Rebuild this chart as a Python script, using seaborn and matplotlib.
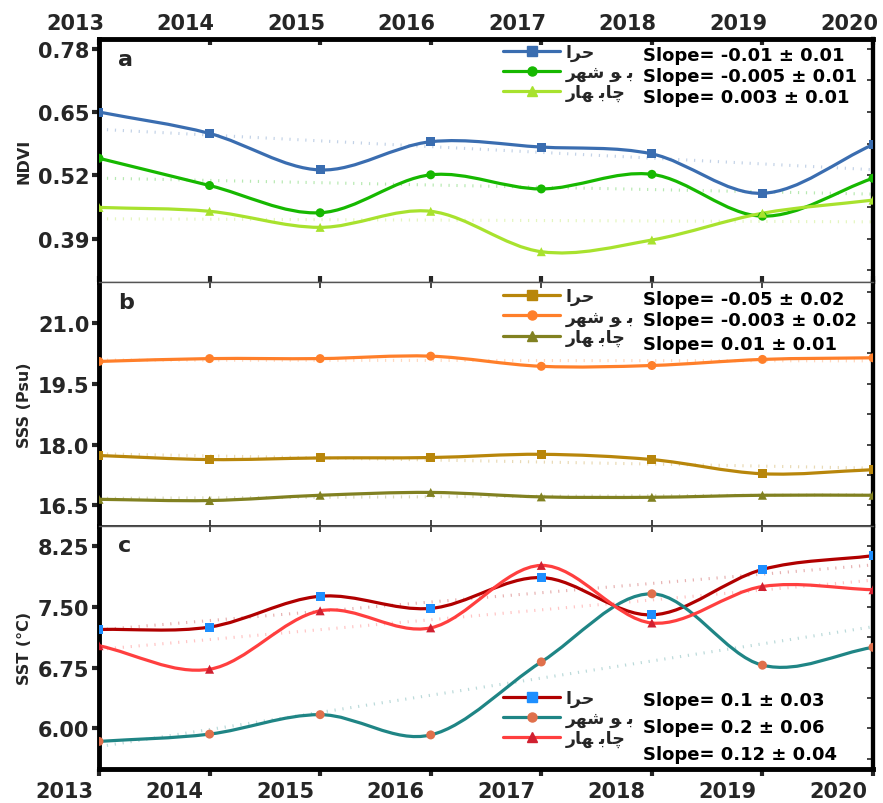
import numpy as np
import pandas as pd
import seaborn as sns
import matplotlib.pyplot as plt
from matplotlib.path import Path
from matplotlib.patches import PathPatch
from matplotlib.lines import Line2D
from matplotlib.transforms import ScaledTranslation

# ---------------------------------------------------------
# Data
# ---------------------------------------------------------
years = [2013, 2014, 2015, 2016, 2017, 2018, 2019, 2020]

# site names, written in visual (left-to-right) Arabic presentation forms
# because matplotlib does no right-to-left shaping: حرا / بو شهر / چاب هار
site_labels = ["\uFE8D\uFEAE\uFEA3",
               "\uFEAE\uFEEC\uFEB7 \uFEEE \uFE91",
               "\uFEAD\uFE8E\uFEEC \uFE91\uFE8E\uFB7C"]

ndvi_hara = [0.650, 0.606, 0.531, 0.589, 0.578, 0.564, 0.483, 0.583]
ndvi_bushehr = [0.555, 0.499, 0.443, 0.521, 0.492, 0.522, 0.436, 0.514]
ndvi_chabahar = [0.454, 0.446, 0.413, 0.446, 0.363, 0.387, 0.442, 0.469]
ndvi_slopes = ["Slope= -0.01 \u00b1 0.01", "Slope= -0.005 \u00b1 0.01", "Slope= 0.003 \u00b1 0.01"]

sss_hara = [17.73, 17.63, 17.67, 17.68, 17.76, 17.63, 17.28, 17.38]
sss_bushehr = [20.05, 20.12, 20.12, 20.18, 19.93, 19.95, 20.10, 20.14]
sss_chabahar = [16.65, 16.62, 16.75, 16.82, 16.71, 16.70, 16.75, 16.75]
sss_slopes = ["Slope= -0.05 \u00b1 0.02", "Slope= -0.003 \u00b1 0.02", "Slope= 0.01 \u00b1 0.01"]

sst_hara = [7.22, 7.25, 7.63, 7.48, 7.86, 7.40, 7.96, 8.13]
sst_bushehr = [5.84, 5.93, 6.17, 5.92, 6.82, 7.66, 6.78, 7.00]
sst_chabahar = [7.02, 6.73, 7.45, 7.24, 8.01, 7.30, 7.75, 7.71]
sst_slopes = ["Slope= 0.1 \u00b1 0.03", "Slope= 0.2 \u00b1 0.06", "Slope= 0.12 \u00b1 0.04"]

ndvi_ticks = [0.39, 0.52, 0.65, 0.78]
sss_ticks = [16.5, 18.0, 19.5, 21.0]
sst_ticks = [6.00, 6.75, 7.50, 8.25]

# ---------------------------------------------------------
# Style
# ---------------------------------------------------------
sns.set_theme(style="ticks")
plt.rcParams["font.family"] = ["DejaVu Sans"]
plt.rcParams["font.weight"] = "bold"


def smooth_path(x, y):
    # Catmull-Rom style bezier through the data points
    pts = np.column_stack([np.asarray(x, float), np.asarray(y, float)])
    tang = np.gradient(pts, axis=0)
    verts, codes = [pts[0]], [Path.MOVETO]
    for i in range(len(pts) - 1):
        verts += [pts[i] + tang[i] / 3, pts[i + 1] - tang[i + 1] / 3, pts[i + 1]]
        codes += [Path.CURVE4] * 3
    return Path(verts, codes)


def draw_panel(ax, series, colors, markers, mcolors, ylim, yticks, ylabel, letter,
               slopes, leg_xy, slope_y, fmt):
    for vals, c, m, mc in zip(series, colors, markers, mcolors):
        df = pd.DataFrame({"year": years, "value": vals})
        # dotted linear trend
        sns.regplot(data=df, x="year", y="value", ax=ax, scatter=False, ci=None,
                    line_kws=dict(color=c, lw=2.2, alpha=0.3, ls=(0, (0.4, 2.2))))
        ax.add_patch(PathPatch(smooth_path(years, vals), fc="none", ec=c, lw=2.3,
                               capstyle="round", zorder=3))
        sns.scatterplot(data=df, x="year", y="value", ax=ax, marker=m, color=mc,
                        s=42, edgecolor="none", zorder=4)
    handles = [Line2D([], [], color=c, lw=2.3, marker=m, markerfacecolor=mc,
                      markeredgecolor=mc, markersize=6.5)
               for c, m, mc in zip(colors, markers, mcolors)]
    ax.legend(handles, site_labels, loc="upper left", bbox_to_anchor=leg_xy,
              frameon=False, handlelength=3.3, handletextpad=0.3, borderpad=0,
              borderaxespad=0, labelspacing=0.12,
              prop=dict(family="DejaVu Sans", weight="bold", size=12.5))
    for s, yy in zip(slopes, slope_y):
        ax.text(0.703, yy, s, transform=ax.transAxes, ha="left", va="center",
                fontsize=13, fontweight="bold", color="black")
    ax.text(0.025, 0.92, letter, transform=ax.transAxes, ha="left", va="center",
            fontsize=16, fontweight="bold")
    ax.set_ylim(*ylim)
    ax.set_yticks(yticks)
    ax.set_yticklabels([fmt.format(t) for t in yticks])
    ax.set_ylabel(ylabel, fontsize=11.5, fontweight="bold")
    ax.yaxis.set_label_coords(-0.087, 0.5)
    ax.tick_params(axis="y", direction="out", length=5, width=3, labelsize=15, pad=2)
    step = (yticks[1] - yticks[0]) / 2
    sec = ax.secondary_yaxis("right")
    sec.set_yticks(np.arange(yticks[0] - step, ylim[1], step))
    sec.tick_params(direction="in", length=4, width=1.2, labelright=False)
    sec.spines["right"].set_linewidth(3)
    sec.spines["right"].set_color("black")
    ax.set_xlim(2013, 2020)
    ax.set_xticks(years)
    ax.set_xlabel("")
    ax.spines["left"].set_linewidth(3.5)
    ax.spines["left"].set_color("black")
    ax.spines["right"].set_linewidth(3)
    ax.spines["right"].set_color("black")
    for side in ["top", "bottom"]:
        ax.spines[side].set_linewidth(1)
        ax.spines[side].set_color("#555555")


fig = plt.figure(figsize=(8.83, 8.04), dpi=100)
axes = fig.subplots(3, 1)
fig.subplots_adjust(left=0.1121, right=0.9887, top=0.9502, bottom=0.0423, hspace=0)

draw_panel(axes[0], [ndvi_hara, ndvi_bushehr, ndvi_chabahar],
           ["#3a6db0", "#16b800", "#a8e22e"], ["s", "o", "^"],
           ["#3a6db0", "#16b800", "#a8e22e"], (0.30, 0.80), ndvi_ticks, "NDVI", "a",
           ndvi_slopes, (0.522, 0.985), [0.934, 0.848, 0.761], "{:.2f}")
draw_panel(axes[1], [sss_hara, sss_bushehr, sss_chabahar],
           ["#b8860b", "#ff7f2a", "#818121"], ["s", "o", "^"],
           ["#b8860b", "#ff7f2a", "#818121"], (16.0, 22.0), sss_ticks, "SSS (Psu)", "b",
           sss_slopes, (0.522, 0.98), [0.930, 0.844, 0.746], "{:.1f}")
draw_panel(axes[2], [sst_hara, sst_bushehr, sst_chabahar],
           ["#b00000", "#1f8585", "#ff3f3f"], ["s", "o", "^"],
           ["#1e8fff", "#e0704c", "#d02030"], (5.5, 8.5), sst_ticks, "SST (\u00b0C)", "c",
           sst_slopes, (0.522, 0.33), [0.284, 0.173, 0.062], "{:.2f}")

# x axes: labels on top of panel a and bottom of panel c
axes[0].tick_params(axis="x", direction="in", top=True, bottom=True, labeltop=True,
                    labelbottom=False, length=4, width=3, labelsize=15, pad=4)
axes[0].spines["top"].set_linewidth(3.5)
axes[0].spines["top"].set_color("black")
axes[1].tick_params(axis="x", direction="in", top=True, bottom=True,
                    labelbottom=False, length=4, width=1.2)
axes[2].tick_params(axis="x", direction="out", bottom=True, labelbottom=True,
                    length=5, width=3, labelsize=15, pad=4)
axes[2].spines["bottom"].set_linewidth(3.5)
axes[2].spines["bottom"].set_color("black")
sec_top = axes[2].secondary_xaxis("top")
sec_top.set_xticks(years)
sec_top.tick_params(direction="in", length=4, width=1.2, labeltop=False)

shift = lambda px: ScaledTranslation(px / 100, 0, fig.dpi_scale_trans)
for lab in axes[0].get_xticklabels():
    lab.set_transform(lab.get_transform() + shift(-24))
for lab in axes[2].get_xticklabels():
    lab.set_transform(lab.get_transform() + shift(-35))

fig.savefig("out.png", dpi=100)
